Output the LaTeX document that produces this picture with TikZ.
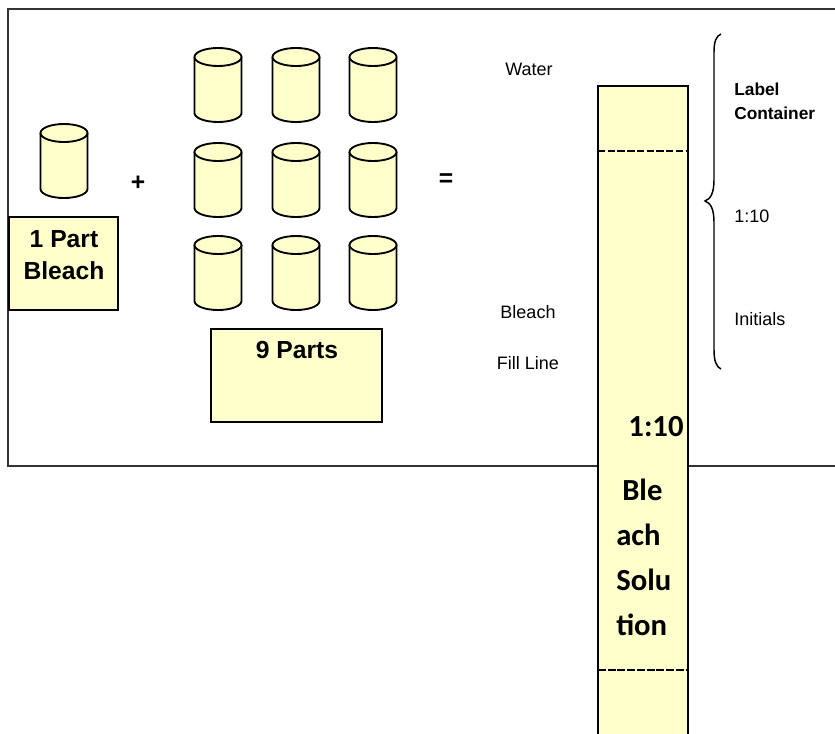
\documentclass[tikz,border=0pt]{standalone}
\usepackage{fontspec}
\setmainfont{Liberation Sans}
\newfontfamily\carlito{Carlito}
\definecolor{paleyellow}{RGB}{255, 255, 204}
\begin{document}
\begin{tikzpicture}[
  x=0.75pt, y=-0.75pt,
  drum/.pic={
    \path[draw=black, fill=paleyellow, line width=1.4pt] (-23.5,-28) -- (-23.5,28)
      .. controls (-23.5,33) and (-13,37) .. (0,37) .. controls (13,37) and (23.5,33) .. (23.5,28)
      -- (23.5,-28);
    \path[draw=black, fill=paleyellow, line width=1.4pt] (0,-28) ellipse [x radius=23.5, y radius=9];
  },
  namebox/.style={draw=black, fill=paleyellow, line width=1.4pt, inner sep=0pt, outer sep=0pt, anchor=north west},
  bigtext/.style={font=\fontsize{18.5}{24}\selectfont\bfseries, align=center},
  smalltext/.style={font=\fontsize{13.5}{16}\selectfont},
  sidetext/.style={smalltext, anchor=west},
  calibritext/.style={font=\fontsize{23}{33.75}\selectfont\carlito\bfseries},
]
\useasboundingbox (0,0) rectangle (835,734);

% Outer frame, open on the right
\draw[black!80, line width=1.4pt] (835,9) -- (8,9) -- (8,466) -- (835,466);

% Left part
\pic (one) at (64,161) {drum};
\node[namebox, minimum width=81.75pt, minimum height=69.75pt] (onebox) at (9,217) {};
\node[bigtext] (onetext) at (64,255) {1 Part\\Bleach};
\node[font=\fontsize{18.5}{24}\selectfont\bfseries] (plus) at (138,183) {+};

% Nine parts
\foreach \col/\x in {a/218,b/296,c/373}{
  \foreach \row/\y in {1/85,2/180,3/273}{
    \pic (\col\row) at (\x,\y) {drum};
  }
}
\node[namebox, minimum width=128.25pt, minimum height=69.75pt] (ninebox) at (211,329) {};
\node[bigtext] (ninetext) at (297,350) {9 Parts};
\node[font=\fontsize{18.5}{24}\selectfont\bfseries] (equals) at (446,180) {=};

% Container, runs off the bottom of the page
\node[namebox, minimum width=67.5pt, minimum height=495pt] (tube) at (598,86) {};
\draw[black, line width=1.9pt, dash pattern=on 5.5pt off 1.8pt] (tube.west |- 0,151) coordinate (upperl) -- (tube.east |- 0,151) coordinate (upperr);
\draw[black, line width=1pt, dash pattern=on 6pt off 1.3pt] (tube.west |- 0,670) coordinate (lowerl) -- (tube.east |- 0,670) coordinate (lowerr);

\node[calibritext] (ratio) at (656,427) {1:10};
\node[calibritext, align=left, anchor=north west, inner sep=0pt] (soln) at (616,479) {\hspace*{4.5pt}Ble\\ach\\Solu\\tion};

% Labels
\node[smalltext] (water) at (529,69) {Water};
\node[smalltext] (bleach) at (528,312) {Bleach};
\node[smalltext] (fill) at (528,363) {Fill Line};

% Brace
\draw[black, line width=1.1pt] (721,34) .. controls (716,36) and (714,42) .. (714,52) -- (714,180)
  .. controls (714,192) and (711,199) .. (705,201) .. controls (711,203) and (714,210) .. (714,222)
  -- (714,350) .. controls (714,360) and (716,367) .. (721,369);

\node[sidetext, font=\fontsize{13}{18}\selectfont\bfseries, align=left, inner sep=0pt] (label) at (734,101) {Label\\Container};
\node[sidetext, inner sep=0pt] (ratiotwo) at (734,216) {1:10};
\node[sidetext, inner sep=0pt] (initials) at (734,319) {Initials};
\end{tikzpicture}
\end{document}
